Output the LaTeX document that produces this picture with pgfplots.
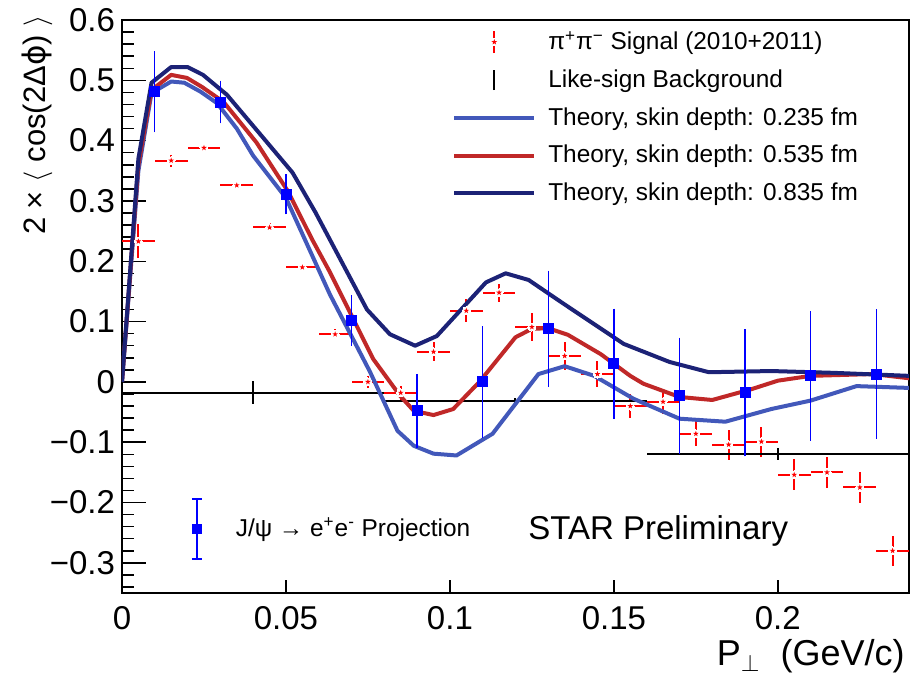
\documentclass[border=0pt]{standalone}
\usepackage{pgfplots}
\usepackage{pgfplotstable}
\pgfplotsset{compat=1.18}
\usepackage{fontspec}
\setmainfont{Liberation Sans}
\newfontfamily\dejavu{DejaVu Sans}

\definecolor{thA}{RGB}{66,88,186}
\definecolor{thB}{RGB}{192,40,40}
\definecolor{thC}{RGB}{28,34,118}

% filled five-pointed star marker
\pgfdeclareplotmark{fstar}{%
  \pgfpathmoveto{\pgfpointpolar{90}{\pgfplotmarksize}}%
  \pgfpathlineto{\pgfpointpolar{126}{0.4\pgfplotmarksize}}%
  \pgfpathlineto{\pgfpointpolar{162}{\pgfplotmarksize}}%
  \pgfpathlineto{\pgfpointpolar{198}{0.4\pgfplotmarksize}}%
  \pgfpathlineto{\pgfpointpolar{234}{\pgfplotmarksize}}%
  \pgfpathlineto{\pgfpointpolar{270}{0.4\pgfplotmarksize}}%
  \pgfpathlineto{\pgfpointpolar{306}{\pgfplotmarksize}}%
  \pgfpathlineto{\pgfpointpolar{342}{0.4\pgfplotmarksize}}%
  \pgfpathlineto{\pgfpointpolar{18}{\pgfplotmarksize}}%
  \pgfpathlineto{\pgfpointpolar{54}{0.4\pgfplotmarksize}}%
  \pgfpathclose
  \pgfusepathqfill}

% pi+pi- signal
\pgfplotstableread{
x y ex ey
0.005 0.233 0.005 0.028
0.015 0.367 0.005 0.010
0.025 0.388 0.005 0.007
0.035 0.326 0.005 0.007
0.045 0.256 0.005 0.007
0.055 0.190 0.005 0.007
0.065 0.079 0.005 0.008
0.075 0.000 0.005 0.010
0.085 -0.018 0.005 0.012
0.095 0.050 0.005 0.016
0.105 0.118 0.005 0.019
0.115 0.148 0.005 0.015
0.125 0.091 0.005 0.024
0.135 0.043 0.005 0.023
0.145 0.013 0.005 0.021
0.155 -0.040 0.005 0.020
0.165 -0.033 0.005 0.020
0.175 -0.086 0.005 0.021
0.185 -0.104 0.005 0.025
0.195 -0.099 0.005 0.025
0.205 -0.154 0.005 0.026
0.215 -0.150 0.005 0.026
0.225 -0.175 0.005 0.026
0.235 -0.280 0.005 0.025
}\pipi

% like-sign background
\pgfplotstableread{
x y ex ey
0.04 -0.018 0.04 0.019
0.12 -0.031 0.04 0.005
0.20 -0.119 0.04 0.010
}\bkg

% J/psi -> e+e- projection
\pgfplotstableread{
x y ey
0.01 0.481 0.059
0.03 0.464 0.027
0.05 0.311 0.025
0.07 0.102 0.034
0.09 -0.048 0.053
0.11 0.000 0.084
0.13 0.088 0.088
0.15 0.030 0.083
0.17 -0.023 0.088
0.19 -0.018 0.097
0.21 0.010 0.099
0.23 0.013 0.099
}\jpsi

\pgfplotsset{
  frame/.style={
    width=393.5pt, height=286.5pt, scale only axis,
    xmin=0, xmax=0.24, ymin=-0.35, ymax=0.6,
  },
  lineimg/.style={legend image code/.code={
    \path[draw=none] (0pt,0pt) -- (45pt,0pt);
    \draw[##1] (0pt,0pt) -- (40pt,0pt);}},
}

\begin{document}
\begin{tikzpicture}
\begin{axis}[
  frame,
  axis line style={line width=0.75pt},
  tick style={black, line width=0.75pt},
  tick align=inside,
  xtick pos=lower, ytick pos=left,
  xtick={0,0.05,0.1,0.15,0.2},
  xticklabels={0,0.05,0.1,0.15,0.2},
  ytick={-0.3,-0.2,-0.1,0,0.1,0.2,0.3,0.4,0.5,0.6},
  yticklabels={−0.3,−0.2,−0.1,0,0.1,0.2,0.3,0.4,0.5,0.6},
  minor ytick={-0.34,-0.32,-0.28,-0.26,-0.24,-0.22,-0.18,-0.16,-0.14,-0.12,-0.08,-0.06,-0.04,-0.02,0.02,0.04,0.06,0.08,0.12,0.14,0.16,0.18,0.22,0.24,0.26,0.28,0.32,0.34,0.36,0.38,0.42,0.44,0.46,0.48,0.52,0.54,0.56,0.58},
  major tick length=12pt, minor tick length=6pt,
  xtick style={/pgfplots/major tick length=6.5pt},
  ticklabel style={font=\fontsize{16.5}{18}\selectfont},
  xticklabel style={yshift=-3pt},
  legend style={
    at={(rel axis cs:0.4192,0.988)}, anchor=north west,
    draw=none, fill=none, inner sep=0pt,
    font=\fontsize{12.2}{14}\selectfont,
    row sep=4.5pt,
  },
  legend cell align=left,
]

\addlegendimage{legend image code/.code={
  \path[draw=none] (0pt,0pt) -- (45pt,0pt);
  \draw[red, line width=1pt] (20pt,-5.5pt) -- (20pt,-2pt) (20pt,2pt) -- (20pt,5.5pt);
  \begin{scope}[shift={(20pt,0pt)}]\pgfsetfillcolor{red}\pgfsetplotmarksize{1.5pt}\pgfuseplotmark{fstar}\end{scope}}}
\addlegendentry{π\textsuperscript{+}π\textsuperscript{−} Signal (2010+2011)}
\addlegendimage{legend image code/.code={
  \path[draw=none] (0pt,0pt) -- (45pt,0pt);
  \draw[black, line width=1pt] (20pt,-5pt) -- (20pt,5pt);}}
\addlegendentry{Like-sign Background}
\addlegendimage{lineimg, thA, line width=2pt}
\addlegendentry{Theory, skin depth: 0.235 fm}
\addlegendimage{lineimg, thB, line width=2pt}
\addlegendentry{Theory, skin depth: 0.535 fm}
\addlegendimage{lineimg, thC, line width=2pt}
\addlegendentry{Theory, skin depth: 0.835 fm}

% signal: error bars, gap around the marker, star marker
\addplot[forget plot, draw=none, mark=none,
  error bars/.cd, x dir=both, x explicit, y dir=both, y explicit,
  error bar style={draw=red, line width=1pt}, error mark=none]
  table[x=x, y=y, x error=ex, y error=ey] {\pipi};
\addplot[forget plot, only marks, mark=*, mark size=2pt,
  mark options={fill=white, draw=white, line width=0pt}]
  table[x=x, y=y] {\pipi};
\addplot[forget plot, only marks, mark=fstar, mark size=1.5pt, red]
  table[x=x, y=y] {\pipi};

% like-sign background
\addplot[forget plot, draw=none, mark=none,
  error bars/.cd, x dir=both, x explicit, y dir=both, y explicit,
  error bar style={draw=black, line width=1pt}, error mark=none]
  table[x=x, y=y, x error=ex, y error=ey] {\bkg};

% theory curves
\addplot[forget plot, thA, line width=2pt, line join=round] coordinates {
(0,0) (0.005,0.35) (0.009,0.479) (0.015,0.498) (0.019,0.496) (0.024,0.481)
(0.029,0.462) (0.035,0.420) (0.040,0.375) (0.050,0.305) (0.0634,0.145)
(0.0756,0.017) (0.084,-0.081) (0.089,-0.106) (0.095,-0.119) (0.102,-0.122)
(0.113,-0.086) (0.127,0.013) (0.135,0.026) (0.144,0.010) (0.156,-0.028)
(0.170,-0.061) (0.184,-0.066) (0.198,-0.045) (0.210,-0.031) (0.224,-0.007)
(0.240,-0.010)};
\addplot[forget plot, thB, line width=2pt, line join=round] coordinates {
(0,0) (0.005,0.36) (0.009,0.484) (0.015,0.509) (0.0198,0.504) (0.0244,0.489)
(0.031,0.464) (0.041,0.397) (0.0506,0.316) (0.058,0.236) (0.0634,0.182)
(0.0766,0.038) (0.0848,-0.023) (0.089,-0.048) (0.095,-0.055) (0.101,-0.045)
(0.109,0.000) (0.120,0.074) (0.125,0.088) (0.130,0.089) (0.136,0.078)
(0.146,0.046) (0.150,0.030) (0.155,0.010) (0.159,-0.003) (0.170,-0.025)
(0.180,-0.030) (0.192,-0.012) (0.200,0.002) (0.210,0.010) (0.229,0.013)
(0.240,0.006)};
\addplot[forget plot, thC, line width=2pt, line join=round] coordinates {
(0,0) (0.005,0.37) (0.009,0.496) (0.015,0.522) (0.020,0.522) (0.0247,0.509)
(0.032,0.476) (0.041,0.418) (0.052,0.347) (0.059,0.281) (0.0747,0.120)
(0.0817,0.079) (0.0894,0.060) (0.096,0.076) (0.111,0.165) (0.117,0.180)
(0.124,0.169) (0.134,0.132) (0.153,0.063) (0.167,0.033) (0.179,0.016)
(0.198,0.018) (0.217,0.015) (0.240,0.010)};

% J/psi projection
\addplot[forget plot, only marks, mark=square*, mark size=2.5pt,
  mark options={draw=blue, fill=blue},
  error bars/.cd, y dir=both, y explicit,
  error bar style={blue, line width=0.7pt},
  error mark options={blue, mark size=2.5pt, line width=0.7pt}]
  table[x=x, y=y, y error=ey] {\jpsi};

\node[anchor=base west, inner sep=0pt, font=\fontsize{16.5}{18}\selectfont]
  at (axis cs:0.1238,-0.261) {STAR Preliminary};
\end{axis}

% second legend for the J/psi projection
\begin{axis}[
  frame, hide axis,
  legend style={
    at={(rel axis cs:0.0793,0.112)}, anchor=west,
    draw=none, fill=none, inner sep=0pt,
    font=\fontsize{12.2}{14}\selectfont,
  },
  legend cell align=left,
]
\addlegendimage{legend image code/.code={
  \path[draw=none] (0pt,0pt) -- (23.5pt,0pt);
  \draw[blue, line width=0.7pt] (6pt,-15pt) -- (6pt,15pt)
    (3.5pt,-15pt) -- (8.5pt,-15pt) (3.5pt,15pt) -- (8.5pt,15pt);
  \fill[blue] (3.6pt,-2.4pt) rectangle (8.4pt,2.4pt);}}
\addlegendentry{J/ψ → e\textsuperscript{+}e\textsuperscript{-} Projection}
\end{axis}

\node[rotate=90, anchor=east, inner sep=0pt, font=\fontsize{15.5}{17}\selectfont]
  at ([shift={(-42.5pt,2.5pt)}]current axis.north west)
  {2 × $\big\langle$ cos(2Δ{\dejavu ϕ}) $\big\rangle$};
\node[anchor=base east, inner sep=0pt, font=\fontsize{18}{20}\selectfont]
  at ([shift={(-2pt,-36.5pt)}]current axis.south east)
  {P$_{\perp}$\ \ (GeV/c)};

\pgfresetboundingbox
\path[use as bounding box] ([shift={(-61pt,-40.5pt)}]current axis.south west)
  rectangle ++(458.5pt,337pt);
\end{tikzpicture}
\end{document}
